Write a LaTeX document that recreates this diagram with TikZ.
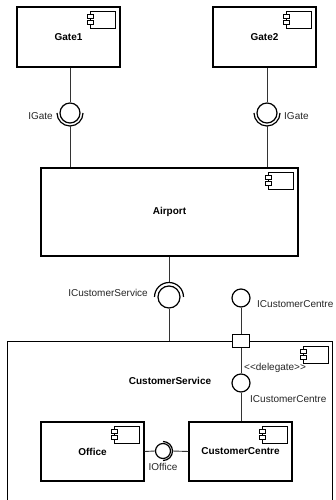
\documentclass[tikz,border=0pt]{standalone}
\usepackage{fontspec}
\setmainfont{Liberation Sans}
\usetikzlibrary{calc}

% UML component icon in the top-right corner of a component box
\newcommand\compicon[1]{%
  \begin{scope}[shift={(#1.north east)}]
    \draw[line width=0.8pt,fill=white] (-30,-5) rectangle (-5,-22);
    \draw[line width=0.8pt,fill=white] (-33,-8.5) rectangle (-27,-12.5);
    \draw[line width=0.8pt,fill=white] (-33,-14.5) rectangle (-27,-18.5);
  \end{scope}}

\begin{document}
\begin{tikzpicture}[x=1pt,y=1pt,
  comp/.style={draw=black,line width=1.3pt,fill=white,rectangle,inner sep=0pt,
    font=\fontsize{10}{12}\selectfont\bfseries},
  wire/.style={draw=black!80,line width=0.9pt},
  iface/.style={draw=black,line width=1.2pt,circle,inner sep=0pt,fill=white},
  socket/.style={draw=black,line width=1.2pt},
  lbl/.style={font=\fontsize{10}{12}\selectfont,inner sep=0pt,text=black!85},
  portbox/.style={draw=black,line width=1.3pt,fill=white,rectangle,inner sep=0pt,
    minimum width=17pt,minimum height=13pt}]
\useasboundingbox (0,0) rectangle (336,500);
\clip (0,0) rectangle (336,500);

% outer composite component (runs past the lower edge)
\node[comp,anchor=north west,minimum width=325pt,minimum height=190pt] (cs) at (7,159) {};
\compicon{cs}
\node[font=\fontsize{10}{12}\selectfont\bfseries,inner sep=0pt] (cslabel) at (170,119) {CustomerService};

% components
\node[comp,minimum width=103pt,minimum height=60pt] (gate1) at (68.5,463) {Gate1};
\compicon{gate1}
\node[comp,minimum width=103pt,minimum height=60pt] (gate2) at (264.5,463) {Gate2};
\compicon{gate2}
\node[comp,minimum width=257pt,minimum height=88pt] (airport) at (169.5,288) {Airport};
\compicon{airport}
\node[comp,minimum width=103pt,minimum height=59pt] (office) at (92.5,48.5) {Office};
\compicon{office}
\node[comp,minimum width=103pt,minimum height=59pt] (ccentre) at (240.5,48.5) {CustomerCentre};
\compicon{ccentre}

% IGate interfaces (provided by the gates, required by the airport)
\node[iface,minimum size=20pt] (ig1) at (70,387) {};
\node[iface,minimum size=20pt] (ig2) at (267,387) {};
\draw[socket] ($(ig1.center)+(180:13)$) arc[start angle=180,end angle=360,radius=13];
\draw[socket] ($(ig2.center)+(180:13)$) arc[start angle=180,end angle=360,radius=13];
\coordinate (ig1s) at ($(ig1.center)+(0,-13)$);
\coordinate (ig2s) at ($(ig2.center)+(0,-13)$);
\draw[wire] (gate1.south -| ig1) -- (ig1.north);
\draw[wire] (gate2.south -| ig2) -- (ig2.north);
\draw[wire] (ig1s) -- (airport.north -| ig1s);
\draw[wire] (ig2s) -- (airport.north -| ig2s);
\node[lbl,anchor=east] (ig1l) at (53,384) {IGate};
\node[lbl,anchor=west] (ig2l) at (284,384) {IGate};

% ICustomerService (required by the airport)
\node[iface,minimum size=22pt] (ics) at (169,203) {};
\draw[socket] ($(ics.center)+(0:14.5)$) arc[start angle=0,end angle=180,radius=14.5];
\coordinate (icss) at ($(ics.center)+(0,14.5)$);
\draw[wire] (airport.south -| icss) -- (icss);
\draw[wire] (ics.south) -- (cs.north -| ics);
\node[lbl,anchor=east] (icsl) at (148,207) {ICustomerService};

% ICustomerCentre, delegated through the port
\node[portbox] (port) at (241,159) {};
\node[iface,minimum size=18pt] (icco) at (241,202) {};
\draw[wire] (icco.south) -- (port.north);
\node[lbl,anchor=west] (iccol) at (257,196) {ICustomerCentre};
\node[iface,minimum size=18pt] (icci) at (241,117) {};
\draw[wire] (port.south) -- (icci.north);
\draw[wire] (icci.south) -- (ccentre.north -| icci);
\node[lbl,anchor=west] (dlg) at (244,132) {<{}<delegate>{}>};
\node[lbl,anchor=west] (iccil) at (250,101) {ICustomerCentre};

% IOffice (provided by the office, required by the customer centre)
\node[iface,minimum size=15pt] (io) at (163,49) {};
\draw[socket] ($(io.center)+(-90:9.5)$) arc[start angle=-90,end angle=90,radius=9.5];
\coordinate (ios) at ($(io.center)+(9.5,0)$);
\draw[wire] (office.east) -- (io.west);
\draw[wire] (ios) -- (ccentre.west);
\node[lbl] (iol) at (163,33) {IOffice};
\end{tikzpicture}
\end{document}
